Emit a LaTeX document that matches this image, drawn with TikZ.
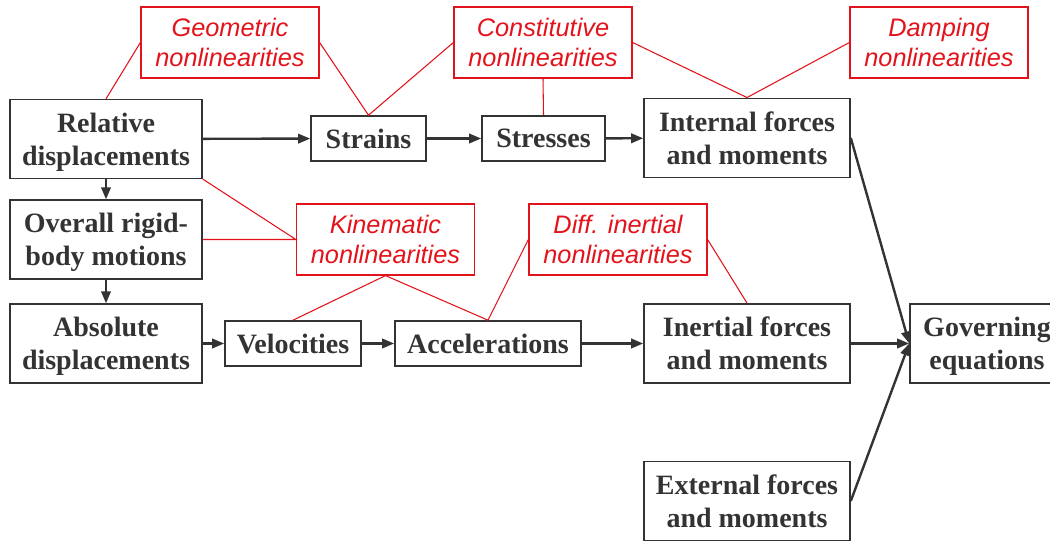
\documentclass[tikz,border=0pt]{standalone}
\usepackage{fontspec}
\setmainfont{Liberation Serif}
\newfontfamily\nlfont{Liberation Sans}
\usepackage{tikz}
\usetikzlibrary{arrows.meta,positioning}
\definecolor{ink}{HTML}{333333}
\definecolor{nlred}{HTML}{E3131B}

\begin{document}
\begin{tikzpicture}[x=0.75pt,y=-0.75pt,
  blk/.style={draw=ink,line width=1.2pt,text=ink,align=center,inner sep=0pt,
    font=\fontsize{21}{24.75}\selectfont\bfseries,text depth=-3.3pt},
  big/.style={blk,minimum width=154.5pt,minimum height=59.5pt},
  side/.style={blk,minimum width=144pt,minimum height=59pt},
  small/.style={blk,minimum height=33.75pt},
  nl/.style={draw=nlred,line width=0.9pt,text=nlred,align=center,inner sep=0pt,
    minimum width=133.5pt,minimum height=53.25pt,font=\nlfont\itshape\fontsize{19}{22}\selectfont},
  arr/.style={draw=ink,line width=1.8pt,-{Triangle[length=9pt,width=7pt]}},
  link/.style={draw=nlred,line width=0.8pt}]
  \useasboundingbox (0,0) rectangle (1050,541);
  % main chain
  \node[side] (rel) at (106,139) {Relative\\displacements};
  \node[side] (rigid) at (106,239.5) {Overall rigid-\\body motions};
  \node[side] (abs) at (106,343.5) {Absolute\\displacements};
  \node[small,minimum width=86.25pt] (strain) at (368.5,138.5) {Strains};
  \node[small,minimum width=92.25pt] (stress) at (543.5,138.5) {Stresses};
  \node[big] (intf) at (747,138) {Internal forces\\and moments};
  \node[small,minimum width=102pt] (vel) at (293,343.5) {Velocities};
  \node[small,minimum width=139.5pt] (acc) at (488,343.5) {Accelerations};
  \node[big] (inert) at (747,343.5) {Inertial forces\\and moments};
  \node[blk,minimum width=115.5pt,minimum height=59.5pt] (gov) at (987,343.5) {Governing\\equations};
  \node[big] (extf) at (747,501) {External forces\\and moments};
  % nonlinearities
  \node[nl] (geo) at (230,42.5) {Geometric\\nonlinearities};
  \node[nl] (cons) at (543,42.5) {Constitutive\\nonlinearities};
  \node[nl] (damp) at (939,42.5) {Damping\\nonlinearities};
  \node[nl] (kin) at (385.5,239.5) {Kinematic\\nonlinearities};
  \node[nl] (dinert) at (618,239.5) {Diff. inertial\\nonlinearities};
  % arrows
  \draw[arr] (rel) -- (strain);
  \draw[arr] (strain) -- (stress);
  \draw[arr] (stress) -- (intf);
  \draw[arr] (rel) -- (rigid);
  \draw[arr] (rigid) -- (abs);
  \draw[arr] (abs) -- (vel);
  \draw[arr] (vel) -- (acc);
  \draw[arr] (acc) -- (inert);
  \draw[arr] (inert) -- (gov);
  \draw[arr] (intf.east) -- (gov.west);
  \draw[arr] (extf.east) -- (gov.west);
  % red links
  \draw[link] (geo.west) -- (rel.north);
  \draw[link] (geo.east) -- (strain.north) -- (cons.west);
  \draw[link] (cons.south) -- (stress.north);
  \draw[link] (cons.east) -- (intf.north) -- (damp.west);
  \draw[link] (rel.south east) -- (kin.west) -- (rigid.east);
  \draw[link] (vel.north) -- (kin.south) -- (acc.north) -- (dinert.west);
  \draw[link] (dinert.east) -- (inert.north);
\end{tikzpicture}
\end{document}
